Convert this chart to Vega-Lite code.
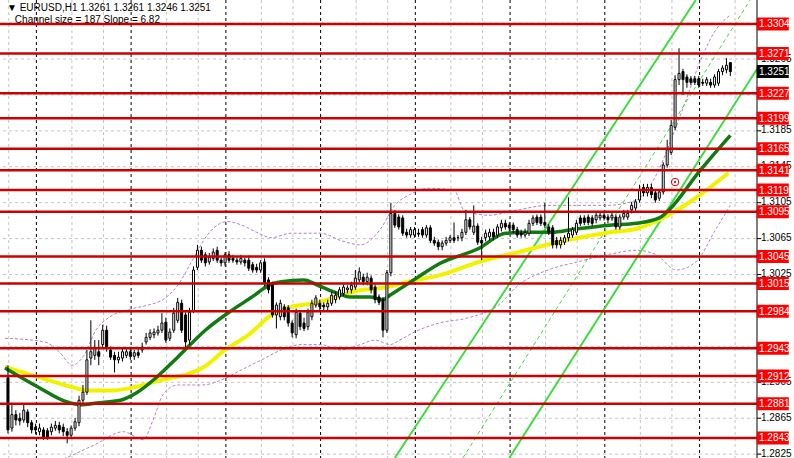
{
"$schema":"https://vega.github.io/schema/vega-lite/v6.json",
"width":762,"height":458,
"autosize":{"type":"none"},
"padding":{"left":0,"top":0,"right":32,"bottom":0},
"background":"#ffffff",
"config":{"view":{"stroke":null},"font":"Liberation Sans"},
"datasets":{
"candles":[
{"t":0,"o":1.2910,"h":1.2924,"l":1.2848,"c":1.2852},
{"t":1,"o":1.2854,"h":1.2880,"l":1.2850,"c":1.2869},
{"t":2,"o":1.2869,"h":1.2874,"l":1.2857,"c":1.2863},
{"t":3,"o":1.2865,"h":1.2871,"l":1.2857,"c":1.2862},
{"t":4,"o":1.2863,"h":1.2880,"l":1.2860,"c":1.2874},
{"t":5,"o":1.2872,"h":1.2875,"l":1.2855,"c":1.2860},
{"t":6,"o":1.2860,"h":1.2863,"l":1.2848,"c":1.2852},
{"t":7,"o":1.2855,"h":1.2859,"l":1.2847,"c":1.2852},
{"t":8,"o":1.2850,"h":1.2859,"l":1.2846,"c":1.2854},
{"t":9,"o":1.2852,"h":1.2855,"l":1.2841,"c":1.2844},
{"t":10,"o":1.2851,"h":1.2854,"l":1.2841,"c":1.2844},
{"t":11,"o":1.2850,"h":1.2859,"l":1.2846,"c":1.2855},
{"t":12,"o":1.2854,"h":1.2862,"l":1.2851,"c":1.2857},
{"t":13,"o":1.2857,"h":1.2861,"l":1.2848,"c":1.2852},
{"t":14,"o":1.2855,"h":1.2859,"l":1.2845,"c":1.2850},
{"t":15,"o":1.2850,"h":1.2854,"l":1.2837,"c":1.2846},
{"t":16,"o":1.2846,"h":1.2857,"l":1.2843,"c":1.2854},
{"t":17,"o":1.2854,"h":1.2865,"l":1.2851,"c":1.2861},
{"t":18,"o":1.2860,"h":1.2890,"l":1.2856,"c":1.2885},
{"t":19,"o":1.2885,"h":1.2902,"l":1.2881,"c":1.2894},
{"t":20,"o":1.2894,"h":1.2941,"l":1.2891,"c":1.2930},
{"t":21,"o":1.2932,"h":1.2974,"l":1.2924,"c":1.2939},
{"t":22,"o":1.2935,"h":1.2952,"l":1.2930,"c":1.2943},
{"t":23,"o":1.2939,"h":1.2952,"l":1.2924,"c":1.2934},
{"t":24,"o":1.2947,"h":1.2969,"l":1.2943,"c":1.2963},
{"t":25,"o":1.2963,"h":1.2968,"l":1.2939,"c":1.2944},
{"t":26,"o":1.2941,"h":1.2945,"l":1.2930,"c":1.2933},
{"t":27,"o":1.2935,"h":1.2939,"l":1.2916,"c":1.2930},
{"t":28,"o":1.2930,"h":1.2939,"l":1.2926,"c":1.2933},
{"t":29,"o":1.2932,"h":1.2943,"l":1.2928,"c":1.2939},
{"t":30,"o":1.2935,"h":1.2943,"l":1.2932,"c":1.2939},
{"t":31,"o":1.2939,"h":1.2942,"l":1.2930,"c":1.2934},
{"t":32,"o":1.2934,"h":1.2941,"l":1.2930,"c":1.2938},
{"t":33,"o":1.2938,"h":1.2943,"l":1.2932,"c":1.2935},
{"t":34,"o":1.2941,"h":1.2949,"l":1.2938,"c":1.2944},
{"t":35,"o":1.2950,"h":1.2960,"l":1.2947,"c":1.2955},
{"t":36,"o":1.2955,"h":1.2964,"l":1.2952,"c":1.2960},
{"t":37,"o":1.2958,"h":1.2965,"l":1.2954,"c":1.2961},
{"t":38,"o":1.2960,"h":1.2968,"l":1.2957,"c":1.2963},
{"t":39,"o":1.2963,"h":1.2982,"l":1.2960,"c":1.2971},
{"t":40,"o":1.2972,"h":1.2977,"l":1.2949,"c":1.2952},
{"t":41,"o":1.2954,"h":1.2965,"l":1.2951,"c":1.2961},
{"t":42,"o":1.2963,"h":1.2988,"l":1.2960,"c":1.2982},
{"t":43,"o":1.2974,"h":1.2999,"l":1.2971,"c":1.2994},
{"t":44,"o":1.2993,"h":1.2997,"l":1.2960,"c":1.2963},
{"t":45,"o":1.2980,"h":1.2983,"l":1.2944,"c":1.2950},
{"t":46,"o":1.2952,"h":1.2988,"l":1.2947,"c":1.2983},
{"t":47,"o":1.2985,"h":1.3034,"l":1.2982,"c":1.3030},
{"t":48,"o":1.3033,"h":1.3058,"l":1.3030,"c":1.3052},
{"t":49,"o":1.3052,"h":1.3056,"l":1.3038,"c":1.3041},
{"t":50,"o":1.3047,"h":1.3050,"l":1.3034,"c":1.3038},
{"t":51,"o":1.3039,"h":1.3049,"l":1.3036,"c":1.3044},
{"t":52,"o":1.3043,"h":1.3054,"l":1.3040,"c":1.3050},
{"t":53,"o":1.3052,"h":1.3056,"l":1.3038,"c":1.3041},
{"t":54,"o":1.3041,"h":1.3044,"l":1.3034,"c":1.3038},
{"t":55,"o":1.3038,"h":1.3050,"l":1.3034,"c":1.3047},
{"t":56,"o":1.3047,"h":1.3051,"l":1.3038,"c":1.3041},
{"t":57,"o":1.3043,"h":1.3047,"l":1.3038,"c":1.3041},
{"t":58,"o":1.3041,"h":1.3044,"l":1.3036,"c":1.3039},
{"t":59,"o":1.3039,"h":1.3047,"l":1.3036,"c":1.3043},
{"t":60,"o":1.3041,"h":1.3044,"l":1.3034,"c":1.3038},
{"t":61,"o":1.3041,"h":1.3046,"l":1.3029,"c":1.3032},
{"t":62,"o":1.3036,"h":1.3039,"l":1.3027,"c":1.3030},
{"t":63,"o":1.3033,"h":1.3037,"l":1.3027,"c":1.3030},
{"t":64,"o":1.3030,"h":1.3041,"l":1.3027,"c":1.3038},
{"t":65,"o":1.3039,"h":1.3043,"l":1.3012,"c":1.3016},
{"t":66,"o":1.3019,"h":1.3022,"l":1.3004,"c":1.3008},
{"t":67,"o":1.3013,"h":1.3017,"l":1.2977,"c":1.2980},
{"t":68,"o":1.2980,"h":1.2994,"l":1.2965,"c":1.2991},
{"t":69,"o":1.2978,"h":1.2997,"l":1.2974,"c":1.2993},
{"t":70,"o":1.2989,"h":1.2992,"l":1.2974,"c":1.2978},
{"t":71,"o":1.2988,"h":1.2991,"l":1.2967,"c":1.2971},
{"t":72,"o":1.2971,"h":1.2974,"l":1.2955,"c":1.2960},
{"t":73,"o":1.2958,"h":1.2987,"l":1.2954,"c":1.2983},
{"t":74,"o":1.2982,"h":1.2985,"l":1.2963,"c":1.2967},
{"t":75,"o":1.2971,"h":1.2977,"l":1.2962,"c":1.2965},
{"t":76,"o":1.2967,"h":1.2987,"l":1.2963,"c":1.2983},
{"t":77,"o":1.2978,"h":1.2997,"l":1.2974,"c":1.2993},
{"t":78,"o":1.2991,"h":1.3002,"l":1.2988,"c":1.2999},
{"t":79,"o":1.2993,"h":1.2997,"l":1.2985,"c":1.2989},
{"t":80,"o":1.2991,"h":1.2994,"l":1.2985,"c":1.2989},
{"t":81,"o":1.2989,"h":1.2997,"l":1.2985,"c":1.2993},
{"t":82,"o":1.2993,"h":1.3006,"l":1.2990,"c":1.3002},
{"t":83,"o":1.2997,"h":1.3006,"l":1.2993,"c":1.3002},
{"t":84,"o":1.3000,"h":1.3011,"l":1.2997,"c":1.3008},
{"t":85,"o":1.3004,"h":1.3014,"l":1.3001,"c":1.3011},
{"t":86,"o":1.3008,"h":1.3013,"l":1.3004,"c":1.3010},
{"t":87,"o":1.3008,"h":1.3017,"l":1.3004,"c":1.3013},
{"t":88,"o":1.3011,"h":1.3030,"l":1.3008,"c":1.3021},
{"t":89,"o":1.3019,"h":1.3033,"l":1.3016,"c":1.3028},
{"t":90,"o":1.3022,"h":1.3026,"l":1.3013,"c":1.3017},
{"t":91,"o":1.3017,"h":1.3027,"l":1.3013,"c":1.3022},
{"t":92,"o":1.3021,"h":1.3024,"l":1.3004,"c":1.3008},
{"t":93,"o":1.3011,"h":1.3014,"l":1.2993,"c":1.2997},
{"t":94,"o":1.3000,"h":1.3003,"l":1.2991,"c":1.2994},
{"t":95,"o":1.2997,"h":1.3000,"l":1.2955,"c":1.2963},
{"t":96,"o":1.2963,"h":1.3030,"l":1.2960,"c":1.3027},
{"t":97,"o":1.3027,"h":1.3105,"l":1.3023,"c":1.3093},
{"t":98,"o":1.3093,"h":1.3097,"l":1.3077,"c":1.3080},
{"t":99,"o":1.3089,"h":1.3092,"l":1.3075,"c":1.3078},
{"t":100,"o":1.3088,"h":1.3091,"l":1.3068,"c":1.3071},
{"t":101,"o":1.3072,"h":1.3076,"l":1.3066,"c":1.3069},
{"t":102,"o":1.3069,"h":1.3078,"l":1.3066,"c":1.3075},
{"t":103,"o":1.3069,"h":1.3078,"l":1.3066,"c":1.3075},
{"t":104,"o":1.3071,"h":1.3076,"l":1.3067,"c":1.3070},
{"t":105,"o":1.3075,"h":1.3078,"l":1.3066,"c":1.3069},
{"t":106,"o":1.3069,"h":1.3080,"l":1.3066,"c":1.3077},
{"t":107,"o":1.3077,"h":1.3080,"l":1.3060,"c":1.3063},
{"t":108,"o":1.3063,"h":1.3067,"l":1.3057,"c":1.3060},
{"t":109,"o":1.3061,"h":1.3064,"l":1.3052,"c":1.3056},
{"t":110,"o":1.3056,"h":1.3063,"l":1.3052,"c":1.3060},
{"t":111,"o":1.3060,"h":1.3067,"l":1.3057,"c":1.3063},
{"t":112,"o":1.3063,"h":1.3069,"l":1.3060,"c":1.3066},
{"t":113,"o":1.3066,"h":1.3083,"l":1.3060,"c":1.3063},
{"t":114,"o":1.3066,"h":1.3069,"l":1.3062,"c":1.3066},
{"t":115,"o":1.3066,"h":1.3076,"l":1.3062,"c":1.3072},
{"t":116,"o":1.3072,"h":1.3097,"l":1.3069,"c":1.3086},
{"t":117,"o":1.3086,"h":1.3089,"l":1.3075,"c":1.3078},
{"t":118,"o":1.3072,"h":1.3102,"l":1.3069,"c":1.3079},
{"t":119,"o":1.3079,"h":1.3082,"l":1.3058,"c":1.3061},
{"t":120,"o":1.3063,"h":1.3067,"l":1.3041,"c":1.3060},
{"t":121,"o":1.3066,"h":1.3075,"l":1.3062,"c":1.3071},
{"t":122,"o":1.3067,"h":1.3076,"l":1.3063,"c":1.3072},
{"t":123,"o":1.3072,"h":1.3076,"l":1.3063,"c":1.3067},
{"t":124,"o":1.3069,"h":1.3081,"l":1.3066,"c":1.3078},
{"t":125,"o":1.3077,"h":1.3086,"l":1.3073,"c":1.3082},
{"t":126,"o":1.3082,"h":1.3086,"l":1.3075,"c":1.3078},
{"t":127,"o":1.3080,"h":1.3083,"l":1.3073,"c":1.3077},
{"t":128,"o":1.3080,"h":1.3083,"l":1.3071,"c":1.3075},
{"t":129,"o":1.3075,"h":1.3078,"l":1.3066,"c":1.3069},
{"t":130,"o":1.3071,"h":1.3075,"l":1.3066,"c":1.3069},
{"t":131,"o":1.3069,"h":1.3076,"l":1.3066,"c":1.3072},
{"t":132,"o":1.3071,"h":1.3086,"l":1.3068,"c":1.3082},
{"t":133,"o":1.3082,"h":1.3091,"l":1.3079,"c":1.3088},
{"t":134,"o":1.3089,"h":1.3092,"l":1.3080,"c":1.3083},
{"t":135,"o":1.3089,"h":1.3092,"l":1.3079,"c":1.3082},
{"t":136,"o":1.3083,"h":1.3105,"l":1.3077,"c":1.3080},
{"t":137,"o":1.3078,"h":1.3081,"l":1.3069,"c":1.3072},
{"t":138,"o":1.3077,"h":1.3080,"l":1.3054,"c":1.3058},
{"t":139,"o":1.3063,"h":1.3067,"l":1.3054,"c":1.3058},
{"t":140,"o":1.3058,"h":1.3067,"l":1.3054,"c":1.3063},
{"t":141,"o":1.3061,"h":1.3069,"l":1.3058,"c":1.3066},
{"t":142,"o":1.3066,"h":1.3111,"l":1.3062,"c":1.3071},
{"t":143,"o":1.3069,"h":1.3078,"l":1.3066,"c":1.3075},
{"t":144,"o":1.3072,"h":1.3086,"l":1.3069,"c":1.3082},
{"t":145,"o":1.3088,"h":1.3091,"l":1.3079,"c":1.3082},
{"t":146,"o":1.3088,"h":1.3091,"l":1.3080,"c":1.3083},
{"t":147,"o":1.3089,"h":1.3092,"l":1.3080,"c":1.3083},
{"t":148,"o":1.3088,"h":1.3091,"l":1.3079,"c":1.3082},
{"t":149,"o":1.3086,"h":1.3095,"l":1.3082,"c":1.3091},
{"t":150,"o":1.3088,"h":1.3095,"l":1.3085,"c":1.3091},
{"t":151,"o":1.3091,"h":1.3095,"l":1.3085,"c":1.3088},
{"t":152,"o":1.3089,"h":1.3092,"l":1.3082,"c":1.3086},
{"t":153,"o":1.3088,"h":1.3095,"l":1.3085,"c":1.3091},
{"t":154,"o":1.3089,"h":1.3092,"l":1.3075,"c":1.3078},
{"t":155,"o":1.3078,"h":1.3092,"l":1.3075,"c":1.3089},
{"t":156,"o":1.3089,"h":1.3097,"l":1.3086,"c":1.3093},
{"t":157,"o":1.3089,"h":1.3097,"l":1.3086,"c":1.3093},
{"t":158,"o":1.3097,"h":1.3106,"l":1.3093,"c":1.3102},
{"t":159,"o":1.3099,"h":1.3109,"l":1.3096,"c":1.3106},
{"t":160,"o":1.3108,"h":1.3125,"l":1.3105,"c":1.3119},
{"t":161,"o":1.3122,"h":1.3126,"l":1.3112,"c":1.3116},
{"t":162,"o":1.3116,"h":1.3126,"l":1.3112,"c":1.3122},
{"t":163,"o":1.3122,"h":1.3126,"l":1.3110,"c":1.3114},
{"t":164,"o":1.3116,"h":1.3119,"l":1.3105,"c":1.3108},
{"t":165,"o":1.3110,"h":1.3120,"l":1.3107,"c":1.3117},
{"t":166,"o":1.3117,"h":1.3150,"l":1.3114,"c":1.3147},
{"t":167,"o":1.3147,"h":1.3175,"l":1.3144,"c":1.3164},
{"t":168,"o":1.3161,"h":1.3197,"l":1.3158,"c":1.3191},
{"t":169,"o":1.3189,"h":1.3247,"l":1.3186,"c":1.3242},
{"t":170,"o":1.3242,"h":1.3277,"l":1.3236,"c":1.3249},
{"t":171,"o":1.3251,"h":1.3254,"l":1.3225,"c":1.3242},
{"t":172,"o":1.3245,"h":1.3248,"l":1.3233,"c":1.3239},
{"t":173,"o":1.3243,"h":1.3246,"l":1.3236,"c":1.3239},
{"t":174,"o":1.3243,"h":1.3246,"l":1.3236,"c":1.3239},
{"t":175,"o":1.3243,"h":1.3246,"l":1.3233,"c":1.3236},
{"t":176,"o":1.3239,"h":1.3243,"l":1.3235,"c":1.3238},
{"t":177,"o":1.3238,"h":1.3245,"l":1.3235,"c":1.3242},
{"t":178,"o":1.3239,"h":1.3243,"l":1.3233,"c":1.3236},
{"t":179,"o":1.3236,"h":1.3248,"l":1.3233,"c":1.3245},
{"t":180,"o":1.3238,"h":1.3254,"l":1.3235,"c":1.3251},
{"t":181,"o":1.3251,"h":1.3258,"l":1.3247,"c":1.3255},
{"t":182,"o":1.3253,"h":1.3266,"l":1.3249,"c":1.3258},
{"t":183,"o":1.3261,"h":1.3261,"l":1.3246,"c":1.3251}
],
"green":[
{"t":-0.75,"v":1.2921},{"t":7.5,"v":1.2900},{"t":15,"v":1.2883},{"t":18.5,"v":1.2880},{"t":22.5,"v":1.2882},{"t":28.5,"v":1.2885},{"t":32.5,"v":1.2893},{"t":37.5,"v":1.2910},{"t":43,"v":1.2933},{"t":50,"v":1.2963},{"t":56,"v":1.2983},{"t":62.5,"v":1.3002},{"t":66,"v":1.3013},{"t":69.25,"v":1.3017},{"t":75,"v":1.3019},{"t":78.5,"v":1.3013},{"t":83.5,"v":1.3004},{"t":86.75,"v":1.3000},{"t":91.75,"v":1.3000},{"t":95,"v":1.2997},{"t":96.75,"v":1.3002},{"t":100,"v":1.3011},{"t":103.5,"v":1.3021},{"t":109.25,"v":1.3037},{"t":119.25,"v":1.3054},{"t":126,"v":1.3071},{"t":131.75,"v":1.3072},{"t":137.5,"v":1.3072},{"t":144.25,"v":1.3076},{"t":152.5,"v":1.3080},{"t":159.25,"v":1.3082},{"t":165,"v":1.3088},{"t":167.5,"v":1.3097},{"t":175,"v":1.3139},{"t":183,"v":1.3180}
],
"yellow":[
{"t":-0.75,"v":1.2922},{"t":7.5,"v":1.2911},{"t":16,"v":1.2900},{"t":20,"v":1.2896},{"t":26.75,"v":1.2896},{"t":32.5,"v":1.2900},{"t":39.25,"v":1.2908},{"t":46,"v":1.2915},{"t":49.25,"v":1.2921},{"t":55,"v":1.2941},{"t":61,"v":1.2958},{"t":66.75,"v":1.2980},{"t":71.75,"v":1.2989},{"t":77.5,"v":1.2993},{"t":81.75,"v":1.2998},{"t":88.5,"v":1.3007},{"t":96,"v":1.3011},{"t":102.5,"v":1.3018},{"t":109.25,"v":1.3024},{"t":119.25,"v":1.3039},{"t":129.25,"v":1.3050},{"t":139.25,"v":1.3061},{"t":146,"v":1.3067},{"t":152.5,"v":1.3072},{"t":159.25,"v":1.3076},{"t":165,"v":1.3086},{"t":173.5,"v":1.3108},{"t":182.5,"v":1.3138}
],
"bands":[
{"b":"up","t":-0.75,"v":1.2954},{"b":"up","t":9.25,"v":1.2950},{"b":"up","t":13,"v":1.2939},{"b":"up","t":16.25,"v":1.2924},{"b":"up","t":19.25,"v":1.2935},{"b":"up","t":22.25,"v":1.2963},{"b":"up","t":25.5,"v":1.2977},{"b":"up","t":30.5,"v":1.2986},{"b":"up","t":35.5,"v":1.2991},{"b":"up","t":39.25,"v":1.2997},{"b":"up","t":43,"v":1.3013},{"b":"up","t":46.75,"v":1.3041},{"b":"up","t":50.5,"v":1.3069},{"b":"up","t":55.5,"v":1.3084},{"b":"up","t":59.25,"v":1.3080},{"b":"up","t":63,"v":1.3072},{"b":"up","t":66.75,"v":1.3066},{"b":"up","t":71.75,"v":1.3071},{"b":"up","t":79.25,"v":1.3071},{"b":"up","t":84.25,"v":1.3063},{"b":"up","t":89.25,"v":1.3058},{"b":"up","t":94.25,"v":1.3075},{"b":"up","t":98,"v":1.3102},{"b":"up","t":101.75,"v":1.3114},{"b":"up","t":106.75,"v":1.3121},{"b":"up","t":113,"v":1.3119},{"b":"up","t":115.5,"v":1.3097},{"b":"up","t":121.75,"v":1.3091},{"b":"up","t":129.25,"v":1.3097},{"b":"up","t":136.75,"v":1.3102},{"b":"up","t":144.25,"v":1.3102},{"b":"up","t":151.75,"v":1.3102},{"b":"up","t":159.25,"v":1.3108},{"b":"up","t":164.25,"v":1.3136},{"b":"up","t":168,"v":1.3175},{"b":"up","t":171.75,"v":1.3219},{"b":"up","t":175.5,"v":1.3264},{"b":"up","t":179.25,"v":1.3297},{"b":"up","t":183,"v":1.3314},
{"b":"lo","t":-0.75,"v":1.2807},{"b":"lo","t":11.75,"v":1.2816},{"b":"lo","t":21.75,"v":1.2835},{"b":"lo","t":29.25,"v":1.2850},{"b":"lo","t":34.25,"v":1.2841},{"b":"lo","t":36.75,"v":1.2863},{"b":"lo","t":39.25,"v":1.2891},{"b":"lo","t":43,"v":1.2902},{"b":"lo","t":49.25,"v":1.2902},{"b":"lo","t":54.25,"v":1.2908},{"b":"lo","t":59.25,"v":1.2919},{"b":"lo","t":64.25,"v":1.2930},{"b":"lo","t":69.25,"v":1.2941},{"b":"lo","t":74.25,"v":1.2947},{"b":"lo","t":79.25,"v":1.2947},{"b":"lo","t":84.25,"v":1.2941},{"b":"lo","t":89.25,"v":1.2947},{"b":"lo","t":93,"v":1.2952},{"b":"lo","t":96.75,"v":1.2947},{"b":"lo","t":99.25,"v":1.2952},{"b":"lo","t":103,"v":1.2961},{"b":"lo","t":109.25,"v":1.2971},{"b":"lo","t":116.75,"v":1.2977},{"b":"lo","t":124.25,"v":1.2991},{"b":"lo","t":129.25,"v":1.3013},{"b":"lo","t":136.75,"v":1.3030},{"b":"lo","t":144.25,"v":1.3039},{"b":"lo","t":151.75,"v":1.3047},{"b":"lo","t":159.25,"v":1.3052},{"b":"lo","t":164.25,"v":1.3047},{"b":"lo","t":169.25,"v":1.3030},{"b":"lo","t":174.25,"v":1.3039},{"b":"lo","t":179.25,"v":1.3075},{"b":"lo","t":183,"v":1.3102}
],
"chan":[
{"id":"A","s":"solid","t":98,"v":1.28207},{"id":"A","s":"solid","t":174.25,"v":1.33307},
{"id":"B","s":"solid","t":127,"v":1.28207},{"id":"B","s":"solid","t":189.75,"v":1.32539},
{"id":"D","s":"dash","t":115.25,"v":1.28207},{"id":"D","s":"dash","t":188,"v":1.33307}
],
"vgrid":[{"t":0.2},{"t":16.2},{"t":24.2},{"t":40.2},{"t":48.2},{"t":64.2},{"t":72.2},{"t":88.2},{"t":96.2},{"t":112.2},{"t":120.2},{"t":136.2},{"t":144.2},{"t":160.2},{"t":168.2},{"t":184.2}],
"seps":[{"t":7.2},{"t":31.2},{"t":55.2},{"t":79.2},{"t":103.2},{"t":127.2},{"t":151.2},{"t":175.2}],
"hgrid":[{"p":1.2825},{"p":1.2865},{"p":1.2905},{"p":1.2945},{"p":1.2985},{"p":1.3025},{"p":1.3065},{"p":1.3105},{"p":1.3145},{"p":1.3185},{"p":1.3225},{"p":1.3265},{"p":1.3305}],
"ylab":[{"p":1.2825},{"p":1.2865},{"p":1.2905},{"p":1.3025},{"p":1.3065},{"p":1.3105},{"p":1.3145},{"p":1.3185},{"p":1.3265}],
"edge":[{"t":189.75}],
"levels":[
{"p":1.3304,"k":"lvl"},{"p":1.3271,"k":"lvl"},{"p":1.3227,"k":"lvl"},{"p":1.3199,"k":"lvl"},{"p":1.3165,"k":"lvl"},{"p":1.3141,"k":"lvl"},{"p":1.3119,"k":"lvl"},{"p":1.3095,"k":"lvl"},{"p":1.3045,"k":"lvl"},{"p":1.3015,"k":"lvl"},{"p":1.2984,"k":"lvl"},{"p":1.2943,"k":"lvl"},{"p":1.2912,"k":"lvl"},{"p":1.2881,"k":"lvl"},{"p":1.2843,"k":"lvl"},{"p":1.3251,"k":"cur"}
],
"alert":[{"t":169,"p":1.3128}],
"hdr1":[{"txt":"▼ EURUSD,H1  1.3261 1.3261 1.3246 1.3251"}],
"hdr2":[{"txt":"Channel size = 187 Slope = 6.82"}]
},
"layer":[
{"data":{"name":"vgrid"},"mark":{"type":"rule","color":"#c4c4c4","strokeWidth":1,"strokeDash":[3,3]},
 "encoding":{"x":{"field":"t","type":"quantitative","scale":{"domain":[-0.75,189.75],"nice":false,"zero":false},"axis":null}}},
{"data":{"name":"hgrid"},"mark":{"type":"rule","color":"#c4c4c4","strokeWidth":1,"strokeDash":[3,3]},
 "encoding":{"y":{"field":"p","type":"quantitative","scale":{"domain":[1.28207,1.33307],"nice":false,"zero":false},"axis":null}}},
{"data":{"name":"seps"},"mark":{"type":"rule","color":"#000000","strokeWidth":1,"strokeDash":[3,3]},
 "encoding":{"x":{"field":"t","type":"quantitative","scale":{"domain":[-0.75,189.75],"nice":false,"zero":false},"axis":null}}},
{"data":{"name":"bands"},"mark":{"type":"line","color":"#b77fc7","strokeWidth":1,"strokeDash":[3,2],"interpolate":"monotone","clip":true},
 "encoding":{"x":{"field":"t","type":"quantitative","scale":{"domain":[-0.75,189.75],"nice":false,"zero":false},"axis":null},
  "y":{"field":"v","type":"quantitative","scale":{"domain":[1.28207,1.33307],"nice":false,"zero":false},"axis":null},
  "detail":{"field":"b","type":"nominal"}}},
{"data":{"name":"chan"},"transform":[{"filter":"datum.s=='solid'"}],"mark":{"type":"line","color":"#3fdc3f","strokeWidth":2,"clip":true},
 "encoding":{"x":{"field":"t","type":"quantitative","scale":{"domain":[-0.75,189.75],"nice":false,"zero":false},"axis":null},
  "y":{"field":"v","type":"quantitative","scale":{"domain":[1.28207,1.33307],"nice":false,"zero":false},"axis":null},
  "detail":{"field":"id","type":"nominal"}}},
{"data":{"name":"chan"},"transform":[{"filter":"datum.s=='dash'"}],"mark":{"type":"line","color":"#3fdc3f","strokeWidth":1,"strokeDash":[4,3],"clip":true},
 "encoding":{"x":{"field":"t","type":"quantitative","scale":{"domain":[-0.75,189.75],"nice":false,"zero":false},"axis":null},
  "y":{"field":"v","type":"quantitative","scale":{"domain":[1.28207,1.33307],"nice":false,"zero":false},"axis":null},
  "detail":{"field":"id","type":"nominal"}}},
{"data":{"name":"yellow"},"mark":{"type":"line","color":"#f2f200","strokeWidth":4,"interpolate":"monotone"},
 "encoding":{"x":{"field":"t","type":"quantitative","scale":{"domain":[-0.75,189.75],"nice":false,"zero":false},"axis":null},
  "y":{"field":"v","type":"quantitative","scale":{"domain":[1.28207,1.33307],"nice":false,"zero":false},"axis":null}}},
{"data":{"name":"green"},"mark":{"type":"line","color":"#127a12","strokeWidth":3.5,"interpolate":"monotone"},
 "encoding":{"x":{"field":"t","type":"quantitative","scale":{"domain":[-0.75,189.75],"nice":false,"zero":false},"axis":null},
  "y":{"field":"v","type":"quantitative","scale":{"domain":[1.28207,1.33307],"nice":false,"zero":false},"axis":null}}},
{"data":{"name":"candles"},"mark":{"type":"rule","color":"#000000","strokeWidth":1},
 "encoding":{"x":{"field":"t","type":"quantitative","scale":{"domain":[-0.75,189.75],"nice":false,"zero":false},"axis":null},
  "y":{"field":"l","type":"quantitative","scale":{"domain":[1.28207,1.33307],"nice":false,"zero":false},"axis":null},
  "y2":{"field":"h"}}},
{"data":{"name":"candles"},"mark":{"type":"bar","width":2,"stroke":"#000000","strokeWidth":1},
 "encoding":{"x":{"field":"t","type":"quantitative","scale":{"domain":[-0.75,189.75],"nice":false,"zero":false},"axis":null},
  "y":{"field":"o","type":"quantitative","scale":{"domain":[1.28207,1.33307],"nice":false,"zero":false},"axis":null},
  "y2":{"field":"c"},
  "fill":{"condition":{"test":"datum.c > datum.o","value":"#ffffff"},"value":"#000000"}}},
{"data":{"name":"levels"},"transform":[{"filter":"datum.k=='lvl'"}],"mark":{"type":"rule","color":"#cc0000","strokeWidth":2.5},
 "encoding":{"y":{"field":"p","type":"quantitative","scale":{"domain":[1.28207,1.33307],"nice":false,"zero":false},"axis":null}}},
{"data":{"name":"alert"},"mark":{"type":"point","shape":"circle","filled":false,"color":"#e00000","size":55,"strokeWidth":1,"opacity":1},
 "encoding":{"x":{"field":"t","type":"quantitative","scale":{"domain":[-0.75,189.75],"nice":false,"zero":false},"axis":null},
  "y":{"field":"p","type":"quantitative","scale":{"domain":[1.28207,1.33307],"nice":false,"zero":false},"axis":null}}},
{"data":{"name":"alert"},"mark":{"type":"point","shape":"circle","filled":true,"color":"#e00000","size":5,"opacity":1},
 "encoding":{"x":{"field":"t","type":"quantitative","scale":{"domain":[-0.75,189.75],"nice":false,"zero":false},"axis":null},
  "y":{"field":"p","type":"quantitative","scale":{"domain":[1.28207,1.33307],"nice":false,"zero":false},"axis":null}}},
{"data":{"name":"edge"},"mark":{"type":"rule","color":"#000000","strokeWidth":1},
 "encoding":{"x":{"field":"t","type":"quantitative","scale":{"domain":[-0.75,189.75],"nice":false,"zero":false},"axis":null}}},
{"data":{"name":"hgrid"},"mark":{"type":"tick","orient":"horizontal","size":4,"thickness":1,"color":"#000000","opacity":1},
 "encoding":{"x":{"datum":190.25,"type":"quantitative","scale":{"domain":[-0.75,189.75],"nice":false,"zero":false},"axis":null},
  "y":{"field":"p","type":"quantitative","scale":{"domain":[1.28207,1.33307],"nice":false,"zero":false},"axis":null}}},
{"data":{"name":"ylab"},"mark":{"type":"text","align":"left","baseline":"middle","color":"#000000","font":"Liberation Sans","fontSize":10,"dy":-0.5},
 "encoding":{"x":{"datum":190.75,"type":"quantitative","scale":{"domain":[-0.75,189.75],"nice":false,"zero":false},"axis":null},
  "y":{"field":"p","type":"quantitative","scale":{"domain":[1.28207,1.33307],"nice":false,"zero":false},"axis":null},
  "text":{"field":"p","type":"quantitative","format":".4f"}}},
{"data":{"name":"levels"},"mark":{"type":"tick","orient":"horizontal","size":32,"thickness":13,"opacity":1},
 "encoding":{"x":{"datum":193.75,"type":"quantitative","scale":{"domain":[-0.75,189.75],"nice":false,"zero":false},"axis":null},
  "y":{"field":"p","type":"quantitative","scale":{"domain":[1.28207,1.33307],"nice":false,"zero":false},"axis":null},
  "color":{"condition":{"test":"datum.k=='cur'","value":"#000000"},"value":"#ff0000"}}},
{"data":{"name":"levels"},"mark":{"type":"text","align":"left","baseline":"middle","color":"#ffffff","font":"Liberation Sans","fontSize":10,"dy":0.5},
 "encoding":{"x":{"datum":190.25,"type":"quantitative","scale":{"domain":[-0.75,189.75],"nice":false,"zero":false},"axis":null},
  "y":{"field":"p","type":"quantitative","scale":{"domain":[1.28207,1.33307],"nice":false,"zero":false},"axis":null},
  "text":{"field":"p","type":"quantitative","format":".4f"}}},
{"data":{"name":"hdr1"},"mark":{"type":"text","align":"left","baseline":"middle","color":"#000000","font":"Liberation Sans","fontSize":10},
 "encoding":{"x":{"datum":-0.25,"type":"quantitative","scale":{"domain":[-0.75,189.75],"nice":false,"zero":false},"axis":null},
  "y":{"datum":1.33218,"type":"quantitative","scale":{"domain":[1.28207,1.33307],"nice":false,"zero":false},"axis":null},
  "text":{"field":"txt","type":"nominal"}}},
{"data":{"name":"hdr2"},"mark":{"type":"text","align":"left","baseline":"middle","color":"#000000","font":"Liberation Sans","fontSize":10},
 "encoding":{"x":{"datum":1.75,"type":"quantitative","scale":{"domain":[-0.75,189.75],"nice":false,"zero":false},"axis":null},
  "y":{"datum":1.33084,"type":"quantitative","scale":{"domain":[1.28207,1.33307],"nice":false,"zero":false},"axis":null},
  "text":{"field":"txt","type":"nominal"}}}
]
}
